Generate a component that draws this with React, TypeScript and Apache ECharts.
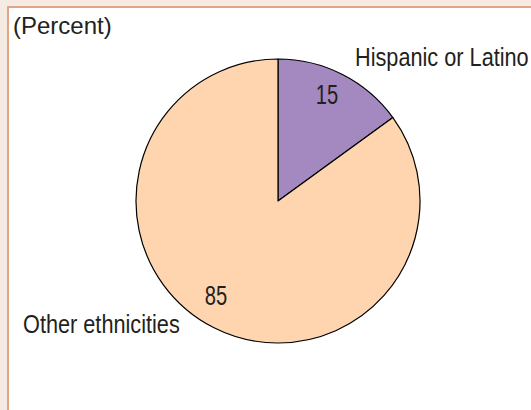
import React, { useEffect, useRef } from "react";
import * as echarts from "echarts";

const categories = ["Hispanic or Latino", "Other ethnicities"];
const values = [15, 85];
const colors = ["#a389bf", "#fed5ae"];
const unitLabel = "(Percent)";

export default function App() {
  const ref = useRef<HTMLDivElement>(null);
  useEffect(() => {
    if (!ref.current) return;
    const chart = echarts.init(ref.current, null, { renderer: "svg" });
    const data = categories.map((c, i) => ({ name: c, value: values[i], itemStyle: { color: colors[i] } }));
    const valuePos = [
      [327, 94],
      [216, 295],
    ];
    const namePos = [
      [355, 57],
      [23, 324],
    ];
    const font = "'Liberation Sans', Arial, sans-serif";
    const valueTexts = values.map((v, i) => ({
      type: "text",
      x: valuePos[i][0],
      y: valuePos[i][1],
      scaleX: 0.72,
      z: 10,
      style: {
        text: String(v),
        font: `28px ${font}`,
        fill: "#231f20",
        align: "center",
        verticalAlign: "middle",
      },
    }));
    const nameTexts = categories.map((c, i) => ({
      type: "text",
      x: namePos[i][0],
      y: namePos[i][1],
      scaleX: 0.835,
      z: 10,
      style: {
        text: c,
        font: `26px ${font}`,
        fill: "#231f20",
        align: "left",
        verticalAlign: "middle",
      },
    }));
    chart.setOption({
      animation: false,
      backgroundColor: "#f6ebe2",
      graphic: [
        {
          type: "rect",
          shape: { x: 8, y: 7, width: 600, height: 500 },
          style: { fill: "#ffffff", stroke: "#e3a585", lineWidth: 2 },
          z: -10,
        },
        {
          type: "text",
          x: 13,
          y: 25,
          style: {
            text: unitLabel,
            font: `24px ${font}`,
            fill: "#222222",
            verticalAlign: "middle",
          },
        },
        ...valueTexts,
        ...nameTexts,
      ],
      series: [
        {
          type: "pie",
          center: [278, 201],
          radius: 142,
          startAngle: 90,
          clockwise: true,
          data,
          itemStyle: { borderColor: "#000000", borderWidth: 1.2 },
          label: { show: false },
          labelLine: { show: false },
          emphasis: { disabled: true },
          silent: true,
        },
      ],
    });
    return () => chart.dispose();
  }, []);
  return (
    <div
      ref={ref}
      style={{ position: "absolute", left: 0, top: 0, width: 531, height: 410 }}
    />
  );
}
